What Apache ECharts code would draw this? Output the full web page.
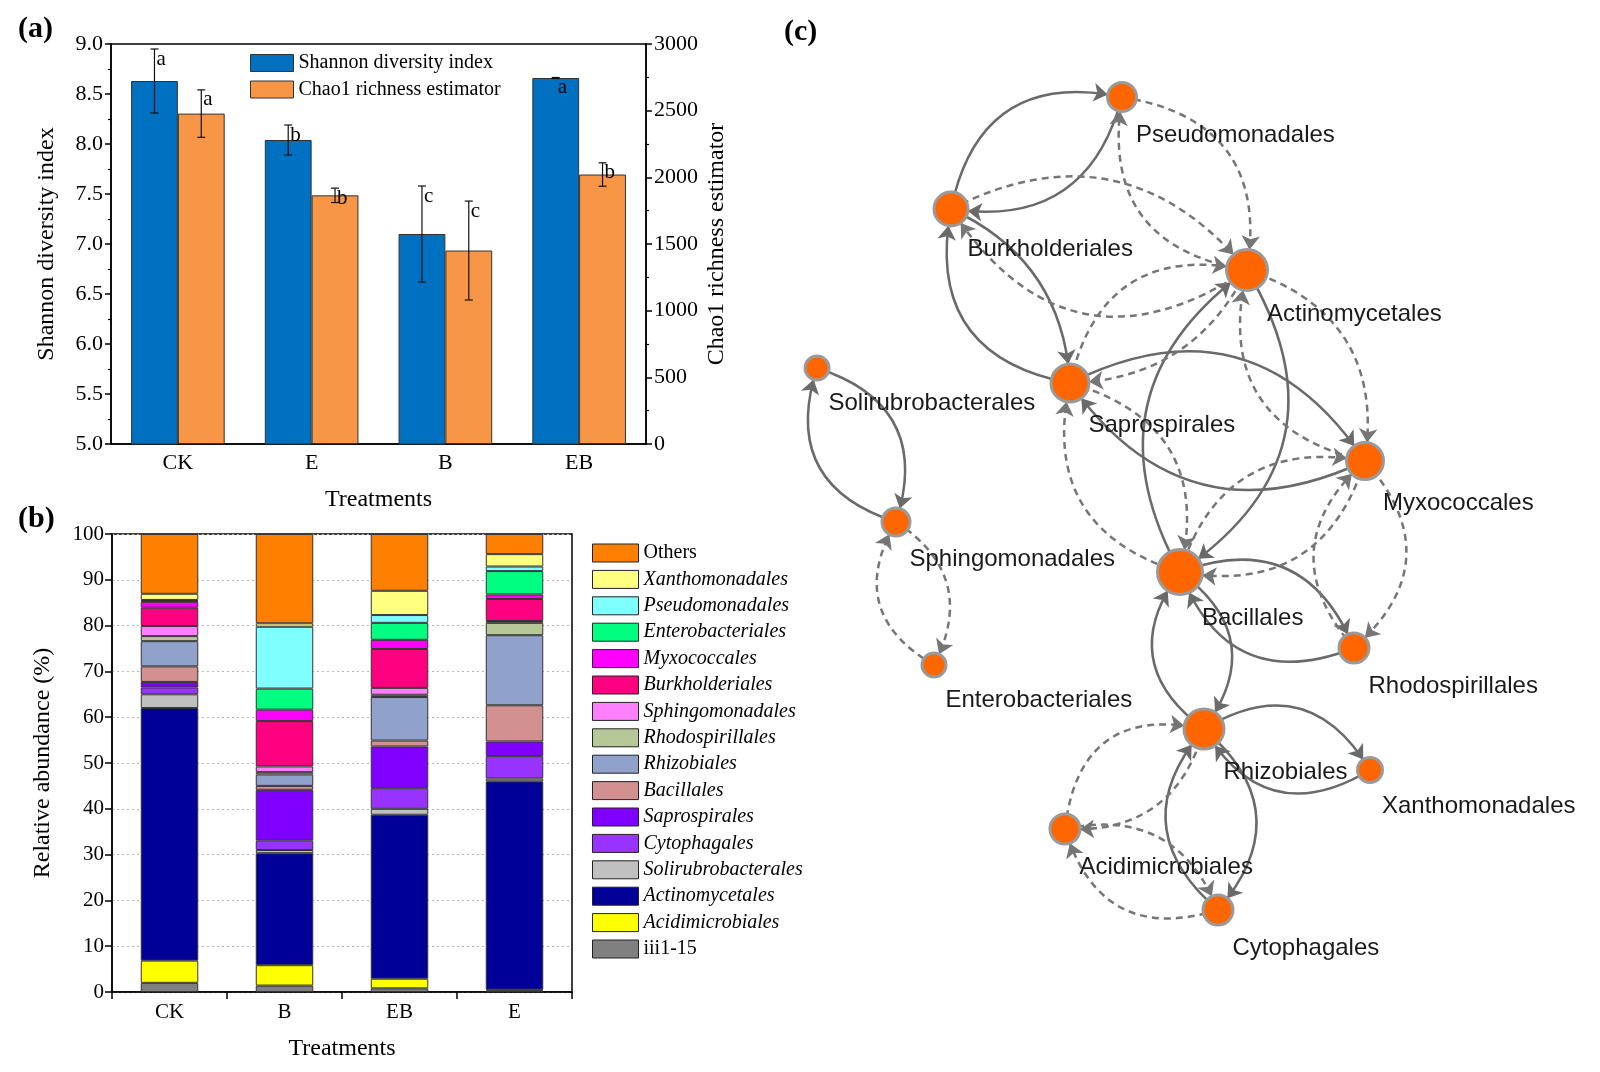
<!DOCTYPE html>
<html>
<head>
<meta charset="utf-8">
<script src="https://cdn.jsdelivr.net/npm/echarts@6/dist/echarts.min.js"></script>
<style>
html,body{margin:0;padding:0;background:#fff;}
#chart{width:1600px;height:1072px;}
</style>
</head>
<body>
<div id="chart"></div>
<script>
// ---------- Panel (a) data ----------
const treatmentsA = ['CK', 'E', 'B', 'EB'];
const shannon = [8.63, 8.04, 7.10, 8.66];
const shannonErr = [0.32, 0.15, 0.48, 0.005];
const shannonLetters = ['a', 'b', 'c', 'a'];
const chao1 = [2478, 1865, 1451, 2021];
const chao1Err = [178, 54, 371, 88];
const chao1Letters = ['a', 'b', 'c', 'b'];

// ---------- Panel (b) data (bottom to top), columns CK, B, EB, E ----------
const treatmentsB = ['CK', 'B', 'EB', 'E'];
const iii115 = [2.0, 1.4, 0.8, 0.3];
const acidimicrobiales = [4.85, 4.45, 2.1, 0.2];
const actinomycetales = [55.15, 24.45, 35.8, 45.5];
const solirubrobacterales = [3.0, 0.7, 1.3, 0.6];
const cytophagales = [1.5, 2.05, 4.5, 4.9];
const saprospirales = [1.2, 11.1, 9.1, 3.2];
const bacillales = [3.4, 0.85, 1.3, 7.9];
const rhizobiales = [5.5, 2.5, 9.5, 15.3];
const rhodospirillales = [1.1, 0.5, 0.5, 2.7];
const sphingomonadales = [2.2, 1.25, 1.5, 0.4];
const burkholderiales = [4.0, 9.9, 8.5, 4.8];
const myxococcales = [1.3, 2.5, 2.0, 1.0];
const enterobacteriales = [0.2, 4.6, 3.7, 5.1];
const pseudomonadales = [0.2, 13.5, 1.7, 1.0];
const xanthomonadales = [1.35, 0.75, 5.3, 2.7];
const others = [13.05, 19.5, 12.4, 4.4];

const orderNames = ['iii1-15', 'Acidimicrobiales', 'Actinomycetales', 'Solirubrobacterales',
  'Cytophagales', 'Saprospirales', 'Bacillales', 'Rhizobiales', 'Rhodospirillales',
  'Sphingomonadales', 'Burkholderiales', 'Myxococcales', 'Enterobacteriales',
  'Pseudomonadales', 'Xanthomonadales', 'Others'];
const orderValues = [iii115, acidimicrobiales, actinomycetales, solirubrobacterales,
  cytophagales, saprospirales, bacillales, rhizobiales, rhodospirillales,
  sphingomonadales, burkholderiales, myxococcales, enterobacteriales,
  pseudomonadales, xanthomonadales, others];
const orderColors = ['#808080', '#FFFF00', '#000099', '#C0C0C0',
  '#9933FF', '#8000FF', '#D39090', '#90A2CC', '#B6C897',
  '#FF80FF', '#FF0080', '#FF00FF', '#00FF80',
  '#80FFFF', '#FFFF80', '#FF8000'];

// ---------- Panel (c) network data ----------
const nodeNames = ['Pseudomonadales', 'Burkholderiales', 'Actinomycetales', 'Saprospirales',
  'Myxococcales', 'Solirubrobacterales', 'Sphingomonadales', 'Bacillales',
  'Rhodospirillales', 'Enterobacteriales', 'Rhizobiales', 'Xanthomonadales',
  'Acidimicrobiales', 'Cytophagales'];
const nodeX = [1122, 951, 1247, 1070, 1365, 817, 896, 1180, 1354, 934, 1204, 1370, 1065, 1218];
const nodeY = [97, 209, 270, 383, 461, 368, 522, 572, 648, 665, 729, 770, 829, 910];
const nodeWeight = [29, 34, 41, 38, 37, 24, 28, 45, 30, 24, 40, 25, 30, 30];

const solidLinks = [
  ['Burkholderiales', 'Pseudomonadales'], ['Pseudomonadales', 'Burkholderiales'],
  ['Burkholderiales', 'Saprospirales'], ['Saprospirales', 'Burkholderiales'],
  ['Saprospirales', 'Myxococcales'], ['Myxococcales', 'Saprospirales'],
  ['Bacillales', 'Actinomycetales'], ['Actinomycetales', 'Bacillales'],
  ['Solirubrobacterales', 'Sphingomonadales'], ['Sphingomonadales', 'Solirubrobacterales'],
  ['Bacillales', 'Rhodospirillales'], ['Rhodospirillales', 'Bacillales'],
  ['Rhizobiales', 'Bacillales'], ['Bacillales', 'Rhizobiales'],
  ['Rhizobiales', 'Xanthomonadales'], ['Xanthomonadales', 'Rhizobiales'],
  ['Cytophagales', 'Rhizobiales'], ['Rhizobiales', 'Cytophagales']
];
const solidCurve = [0.5, 0.45, 0.3, 0.5, 0.44, 0.42, 0.44, 0.47, 0.5, 0.5,
  0.48, 0.5, 0.5, 0.5, 0.5, 0.5, 0.5, 0.5];

const dashedLinks = [
  ['Pseudomonadales', 'Actinomycetales'], ['Actinomycetales', 'Pseudomonadales'],
  ['Burkholderiales', 'Actinomycetales'], ['Actinomycetales', 'Burkholderiales'],
  ['Saprospirales', 'Actinomycetales'], ['Actinomycetales', 'Saprospirales'],
  ['Actinomycetales', 'Myxococcales'], ['Myxococcales', 'Actinomycetales'],
  ['Saprospirales', 'Bacillales'], ['Bacillales', 'Saprospirales'],
  ['Bacillales', 'Myxococcales'], ['Myxococcales', 'Bacillales'],
  ['Rhodospirillales', 'Myxococcales'], ['Myxococcales', 'Rhodospirillales'],
  ['Sphingomonadales', 'Enterobacteriales'], ['Enterobacteriales', 'Sphingomonadales'],
  ['Acidimicrobiales', 'Rhizobiales'], ['Rhizobiales', 'Acidimicrobiales'],
  ['Acidimicrobiales', 'Cytophagales'], ['Cytophagales', 'Acidimicrobiales']
];
const dashedCurve = [0.5, 0.5, 0.4, 0.5, 0.49, 0.3, 0.42, 0.5, 0.48, 0.46,
  0.44, 0.44, 0.49, 0.5, 0.45, 0.5, 0.55, 0.4, 0.42, 0.5];

// ---------- build chart ----------
const SERIF = 'Liberation Serif';
const SANS = 'Liberation Sans';
const GAP_A = 0.30;
const chart = echarts.init(document.getElementById('chart'), null, {renderer: 'canvas'});

function errorSeries(values, errs, letters, yIdx, side, name) {
  return {
    type: 'custom', name: name, xAxisIndex: 0, yAxisIndex: yIdx, silent: true, z: 10,
    data: values.map((v, i) => [i, v, errs[i]]),
    renderItem: function (params, api) {
      const i = api.value(0), v = api.value(1), e = api.value(2);
      const band = api.size([1, 0])[0];
      const bw = band * (1 - GAP_A) / 2;
      const cx = api.coord([i, v])[0] + side * bw / 2;
      const top = api.coord([i, v + e])[1];
      const bot = api.coord([i, v - e])[1];
      const cap = 4;
      const st = {stroke: '#111', lineWidth: 1.2};
      return {
        type: 'group', children: [
          {type: 'line', shape: {x1: cx, y1: top, x2: cx, y2: bot}, style: st},
          {type: 'line', shape: {x1: cx - cap, y1: top, x2: cx + cap, y2: top}, style: st},
          {type: 'line', shape: {x1: cx - cap, y1: bot, x2: cx + cap, y2: bot}, style: st},
          {type: 'text', x: cx + 2, y: top + 10, style: {text: letters[params.dataIndex],
            fill: '#000', font: '21px "' + SERIF + '"', align: 'left', verticalAlign: 'middle'}}
        ]
      };
    }
  };
}

const axisLineBlack = {show: true, lineStyle: {color: '#000', width: 1.5}};
const tickBlack = {show: true, length: 6, lineStyle: {color: '#000', width: 1.5}};
const labelBase = {color: '#000', fontFamily: SERIF, fontSize: 22};
const nameBase = {color: '#000', fontFamily: SERIF, fontSize: 24};

const stackSeries = orderNames.map((n, k) => ({
  type: 'bar', name: n, stack: 'total', xAxisIndex: 1, yAxisIndex: 2,
  barCategoryGap: '50%',
  data: orderValues[k],
  itemStyle: {color: orderColors[k], borderColor: '#333', borderWidth: 1},
  emphasis: {disabled: true}
}));

const nodeData = nodeNames.map((n, i) => ({
  name: n,
  value: [nodeX[i], nodeY[i]],
  symbolSize: nodeWeight[i],
  label: {position: [nodeWeight[i] + 1, nodeWeight[i] + 25]}
}));
const linkData = [];
solidLinks.forEach((l, i) => linkData.push({source: l[0], target: l[1],
  lineStyle: {type: 'solid', curveness: solidCurve[i]}}));
dashedLinks.forEach((l, i) => linkData.push({source: l[0], target: l[1],
  lineStyle: {type: [7, 5], curveness: dashedCurve[i], color: '#767676'}}));

const option = {
  backgroundColor: '#fff',
  animation: false,
  textStyle: {fontFamily: SERIF, color: '#000'},
  grid: [
    {left: 111, top: 44, width: 535, height: 400, show: true, borderColor: '#000', borderWidth: 1.5, outerBoundsMode: 'none'},
    {left: 112, top: 534, width: 460, height: 458, show: true, borderColor: '#000', borderWidth: 1.5, outerBoundsMode: 'none'},
    {left: 0, top: 0, width: 1600, height: 1072, outerBoundsMode: 'none'}
  ],
  legend: [
    {
      data: ['Shannon diversity index', 'Chao1 richness estimator'],
      orient: 'vertical', left: 245, top: 48, itemWidth: 43, itemHeight: 17, itemGap: 6.5,
      selectedMode: false, icon: 'rect',
      itemStyle: {borderColor: '#333', borderWidth: 1},
      textStyle: {fontFamily: SERIF, fontSize: 20, color: '#000', lineHeight: 17}
    },
    {
      data: orderNames.slice().reverse(),
      orient: 'vertical', left: 587, top: 538, itemWidth: 46, itemHeight: 18, itemGap: 6.4,
      selectedMode: false, icon: 'rect',
      itemStyle: {borderColor: '#222', borderWidth: 1},
      formatter: function (n) { return (n === 'Others' || n === 'iii1-15') ? n : '{i|' + n + '}'; },
      textStyle: {fontFamily: SERIF, fontSize: 20, color: '#000', lineHeight: 18,
        rich: {i: {fontStyle: 'italic', fontFamily: SERIF, fontSize: 20, color: '#000', lineHeight: 18}}}
    }
  ],
  xAxis: [
    {gridIndex: 0, type: 'category', data: treatmentsA, axisLine: axisLineBlack,
      axisTick: {show: false}, axisLabel: Object.assign({margin: 8}, labelBase),
      name: 'Treatments', nameLocation: 'middle', nameGap: 44, nameTextStyle: nameBase},
    {gridIndex: 1, type: 'category', data: treatmentsB, axisLine: axisLineBlack,
      axisTick: {show: true, alignWithLabel: false, length: 7, lineStyle: {color: '#000', width: 1.5}},
      axisLabel: Object.assign({margin: 10}, labelBase, {fontSize: 21}),
      name: 'Treatments', nameLocation: 'middle', nameGap: 45, nameTextStyle: nameBase},
    {gridIndex: 2, type: 'value', min: 0, max: 1600, show: false}
  ],
  yAxis: [
    {gridIndex: 0, type: 'value', min: 5, max: 9, interval: 0.5, position: 'left',
      axisLine: axisLineBlack, axisTick: tickBlack,
      minorTick: {show: true, splitNumber: 2, length: 3, lineStyle: {color: '#000', width: 1.2}},
      splitLine: {show: false},
      axisLabel: Object.assign({margin: 8, formatter: v => v.toFixed(1)}, labelBase),
      name: 'Shannon diversity index', nameLocation: 'middle', nameRotate: 90, nameGap: 52,
      nameTextStyle: nameBase},
    {gridIndex: 0, type: 'value', min: 0, max: 3000, interval: 500, position: 'right',
      axisLine: axisLineBlack, axisTick: tickBlack,
      minorTick: {show: true, splitNumber: 2, length: 3, lineStyle: {color: '#000', width: 1.2}},
      splitLine: {show: false},
      axisLabel: Object.assign({margin: 8, formatter: v => String(v)}, labelBase),
      name: 'Chao1 richness estimator', nameLocation: 'middle', nameRotate: 90, nameGap: 59,
      nameTextStyle: nameBase},
    {gridIndex: 1, type: 'value', min: 0, max: 100, interval: 10,
      axisLine: axisLineBlack, axisTick: Object.assign({}, tickBlack, {length: 7}),
      splitLine: {show: true, lineStyle: {color: '#b5b5b5', type: [2, 3], width: 1}},
      axisLabel: Object.assign({margin: 8}, labelBase, {fontSize: 21}),
      name: 'Relative abundance (%)', nameLocation: 'middle', nameRotate: 90, nameGap: 57,
      nameTextStyle: nameBase},
    {gridIndex: 2, type: 'value', min: 0, max: 1072, inverse: true, show: false}
  ],
  graphic: [
    {type: 'text', left: 18, top: 14, style: {text: '(a)', font: 'bold 30px "' + SERIF + '"', fill: '#000'}},
    {type: 'text', left: 18, top: 504, style: {text: '(b)', font: 'bold 30px "' + SERIF + '"', fill: '#000'}},
    {type: 'text', left: 784, top: 17, style: {text: '(c)', font: 'bold 30px "' + SERIF + '"', fill: '#000'}}
  ],
  series: [
    {type: 'bar', name: 'Shannon diversity index', xAxisIndex: 0, yAxisIndex: 0,
      data: shannon, barGap: '0%', barCategoryGap: (GAP_A * 100) + '%',
      itemStyle: {color: '#0070C0', borderColor: '#333', borderWidth: 1}, emphasis: {disabled: true}},
    {type: 'bar', name: 'Chao1 richness estimator', xAxisIndex: 0, yAxisIndex: 1,
      data: chao1, barGap: '0%', barCategoryGap: (GAP_A * 100) + '%',
      itemStyle: {color: '#F79646', borderColor: '#333', borderWidth: 1}, emphasis: {disabled: true}},
    errorSeries(shannon, shannonErr, shannonLetters, 0, -1, 'errS'),
    errorSeries(chao1, chao1Err, chao1Letters, 1, 1, 'errC'),
    ...stackSeries,
    {
      type: 'graph', coordinateSystem: 'cartesian2d', xAxisIndex: 2, yAxisIndex: 3,
      silent: true, z: 5,
      symbol: 'circle',
      data: nodeData,
      links: linkData,
      itemStyle: {color: '#FF6600', borderColor: '#9a9a9a', borderWidth: 3},
      label: {show: true, fontFamily: SANS, fontSize: 24, color: '#1a1a1a', align: 'left', verticalAlign: 'middle'},
      edgeSymbol: ['none', 'arrow'], edgeSymbolSize: [0, 14],
      lineStyle: {color: '#6a6a6a', width: 2.5, opacity: 1},
      emphasis: {disabled: true}
    }
  ]
};
chart.setOption(option);
</script>
</body>
</html>
